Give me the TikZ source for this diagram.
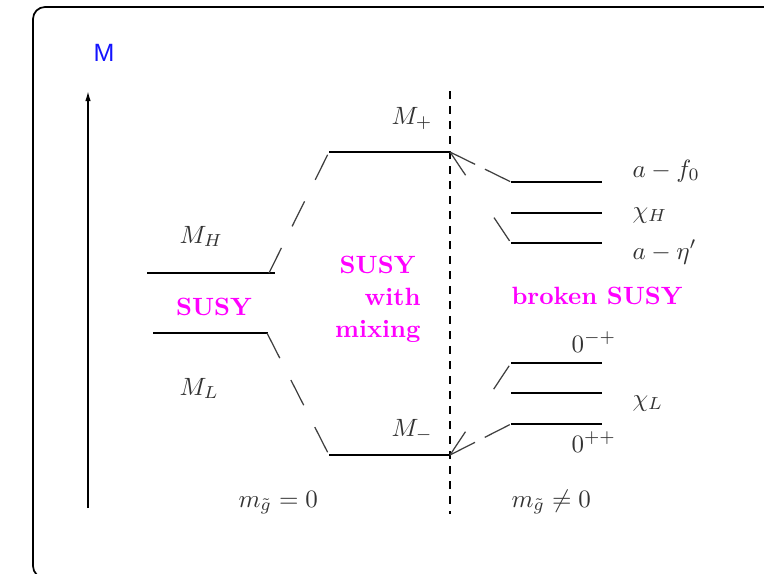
\documentclass[tikz,border=0pt]{standalone}
\usepackage{fontspec}
\newfontfamily\helv{Liberation Sans}
\usetikzlibrary{arrows.meta}
\definecolor{mag}{RGB}{255,0,255}
\definecolor{myblue}{RGB}{20,20,255}
\begin{document}
\begin{tikzpicture}[x=0.4pt,y=-0.4pt,
  level/.style={line width=0.8pt,black},
  conn/.style={line width=0.5pt,black!75},
  lbl/.style={inner sep=0pt,text=black!80},
  pink/.style={inner sep=0pt,text=mag,font=\bfseries}]
\useasboundingbox (0,0) rectangle (764,573);
\begin{scope}
  \clip (0,0) rectangle (764,573);
  \draw[line width=0.7pt,rounded corners=4.8pt] (33,7) rectangle (900,578);
\end{scope}
% axis
\coordinate (ax0) at (88,508);
\coordinate (ax1) at (88,91);
\draw[line width=0.6pt,-{Latex[length=4pt,width=2.2pt]}] (ax0) -- (ax1);
\node[anchor=base,inner sep=0pt,text=myblue,font=\helv] (lM) at (104,61) {M};
% dashed separator
\coordinate (d0) at (450,91);
\coordinate (d1) at (450,514);
\draw[dashed,line width=0.6pt] (d0) -- (d1);
% levels
\coordinate (hl) at (147,273); \coordinate (hr) at (275,273); \coordinate (hc) at (269,273);
\coordinate (ll) at (153,333); \coordinate (lr) at (268,333); \coordinate (lc) at (267,333);
\coordinate (pl) at (329,152); \coordinate (pr) at (450,152);
\coordinate (ml) at (329,455); \coordinate (mr) at (450,455);
\coordinate (r1l) at (511,182); \coordinate (r1r) at (602,182);
\coordinate (r2l) at (511,213); \coordinate (r2r) at (602,213);
\coordinate (r3l) at (511,243); \coordinate (r3r) at (602,243);
\coordinate (r4l) at (511,363); \coordinate (r4r) at (602,363);
\coordinate (r5l) at (511,393); \coordinate (r5r) at (602,393);
\coordinate (r6l) at (511,424); \coordinate (r6r) at (602,424);
\foreach \a/\b in {hl/hr,ll/lr,pl/pr,ml/mr,r1l/r1r,r2l/r2r,r3l/r3r,r4l/r4r,r5l/r5r,r6l/r6r}
  \draw[level] (\a) -- (\b);
% connectors
\draw[conn,dash pattern=on 11.2pt off 9.6pt] (hc) -- (pl);
\draw[conn,dash pattern=on 11.3pt off 9.8pt] (lc) -- (ml);
\draw[conn,dash pattern=on 11.2pt off 4.4pt] (pr) -- (r1l);
\draw[conn,dash pattern=on 11.2pt off 20.4pt] (pr) -- (r3l);
\draw[conn,dash pattern=on 11.2pt off 20.4pt] (mr) -- (r4l);
\draw[conn,dash pattern=on 11.2pt off 4.4pt] (mr) -- (r6l);
% labels
\node[lbl,anchor=base west] (tMH) at (179,243) {$M_H$};
\node[pink,anchor=base] (tS1) at (214,315) {SUSY};
\node[lbl,anchor=base west] (tML) at (179,395) {$M_L$};
\node[lbl,anchor=base west] (tMp) at (391,124) {$M_+$};
\node[lbl,anchor=base west] (tMm) at (391,436) {$M_-$};
\node[pink,anchor=base east] (tS2) at (416,273) {SUSY};
\node[pink,anchor=base east] (tS3) at (421,305) {with};
\node[pink,anchor=base east] (tS4) at (421,337) {mixing};
\node[pink,anchor=base west] (tS5) at (511,304) {broken SUSY};
\node[lbl,anchor=base west] (t1) at (632,177) {$a-f_0$};
\node[lbl,anchor=base west] (t2) at (632,218) {$\chi_H$};
\node[lbl,anchor=base west] (t3) at (632,259) {$a-\eta'$};
\node[lbl,anchor=base west] (t4) at (571,352) {$0^{-+}$};
\node[lbl,anchor=base west] (t5) at (632,406) {$\chi_L$};
\node[lbl,anchor=base west] (t6) at (571,452) {$0^{++}$};
\node[lbl,anchor=base west] (t7) at (238,507) {$m_{\tilde g}=0$};
\node[lbl,anchor=base west] (t8) at (511,507) {$m_{\tilde g}\neq 0$};
\end{tikzpicture}
\end{document}
